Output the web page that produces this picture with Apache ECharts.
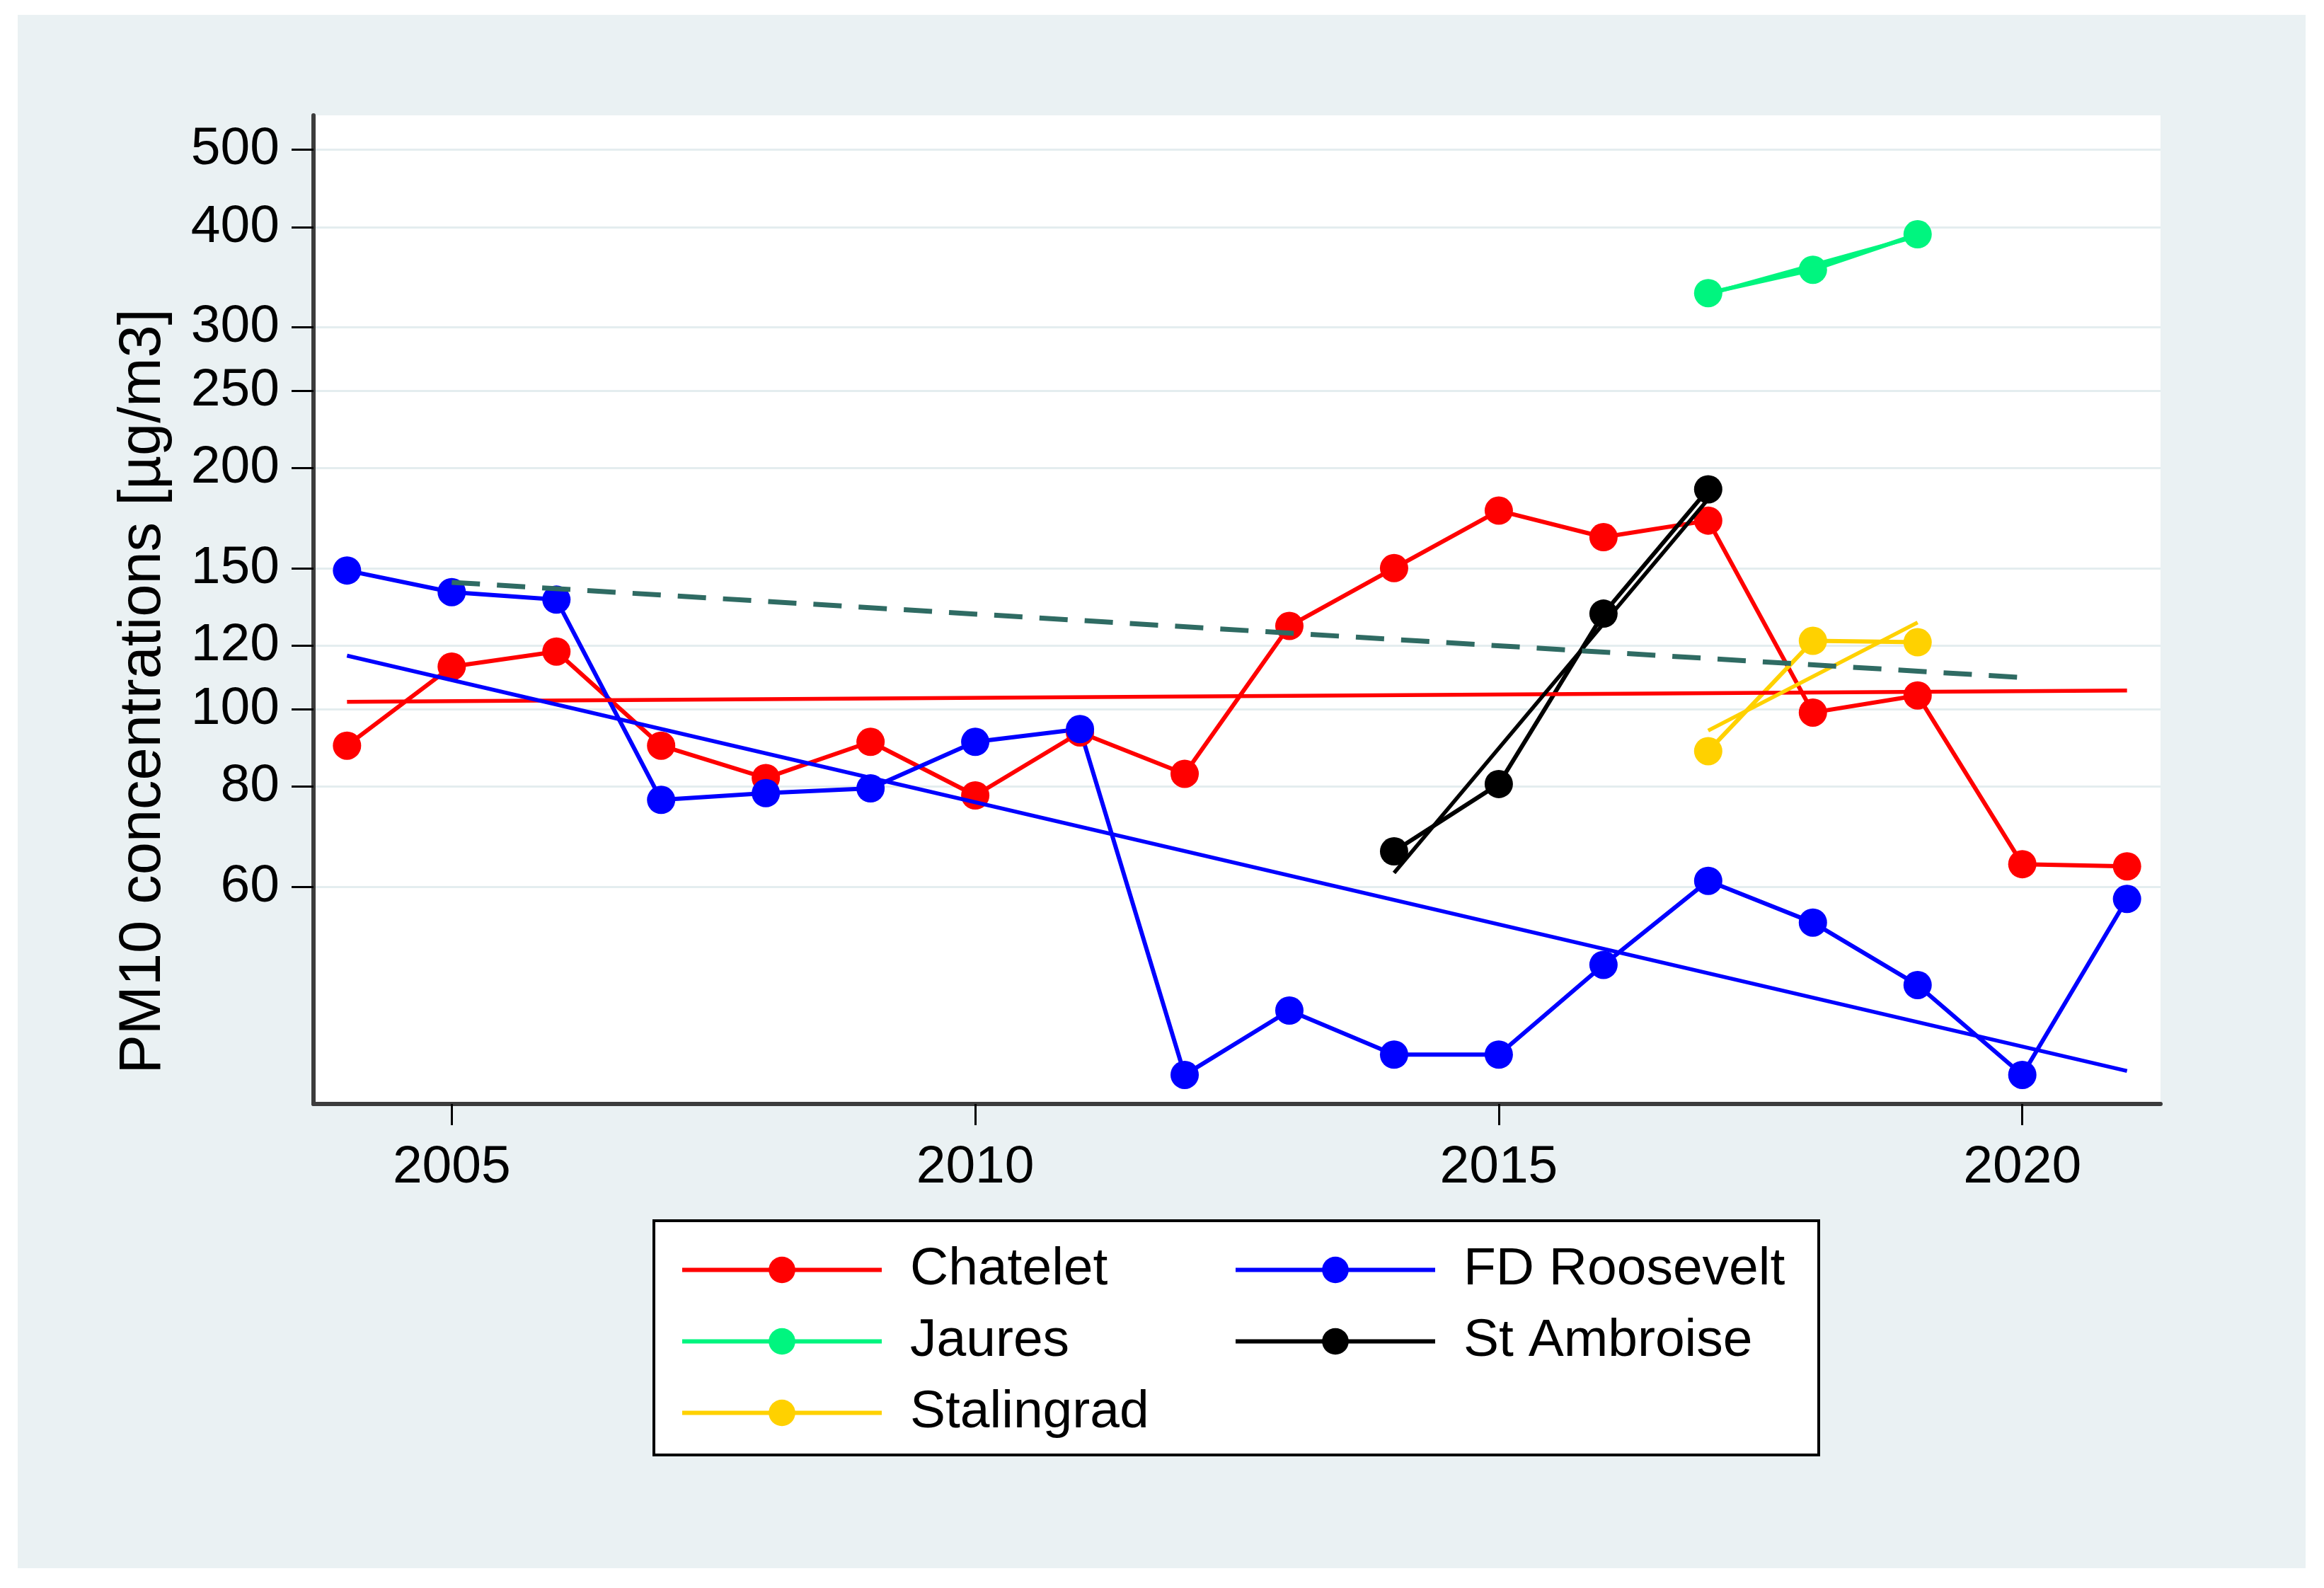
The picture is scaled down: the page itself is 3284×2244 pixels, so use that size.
<!DOCTYPE html>
<html><head><meta charset="utf-8">
<script src="https://cdn.jsdelivr.net/npm/echarts@6/dist/echarts.min.js"></script>
<style>html,body{margin:0;padding:0;background:#fff}#c{width:3284px;height:2244px}</style>
</head><body><div id="c"></div>
<script>
// ---- data ----
const years = [2004,2005,2006,2007,2008,2009,2010,2011,2012,2013,2014,2015,2016,2017,2018,2019,2020,2021];
const chateletVals = [90,113,118,90,82,91,78,93.5,83,127,150,177,164,172,99,104,64,63.6];
const rooseveltVals = [149,140,137,77,78.5,79.6,91,94.4,34.9,42,37,37,47.9,61,54.1,45.2,34.9,57.9];
const jauresYears = [2017,2018,2019];
const jauresVals = [331,354,392];
const ambroiseYears = [2014,2015,2016,2017];
const ambroiseVals = [66.4,80.6,131.6,188.2];
const stalingradYears = [2017,2018,2019];
const stalingradVals = [88.6,121.7,121.2];
// fitted trend lines (end points)
const chateletFitYears = [2004,2021];
const chateletFitVals = [102.1,105.5];
const rooseveltFitYears = [2004,2021];
const rooseveltFitVals = [116.6,35.3];
const jauresFitYears = [2017,2019];
const jauresFitVals = [330,390];
const ambroiseFitYears = [2014,2017];
const ambroiseFitVals = [62.4,183];
const stalingradFitYears = [2017,2019];
const stalingradFitVals = [94.0,128.3];
const overallFitYears = [2005,2020];
const overallFitVals = [144,109.5];
const yTicks = [60,80,100,120,150,200,250,300,400,500];
const xTicks = [2005,2010,2015,2020];

// ---- styling ----
const FONT = "'Liberation Sans', Arial, sans-serif";
const COLORS = {Chatelet:'#ff0000','FD Roosevelt':'#0000ff',Jaures:'#00f57f','St Ambroise':'#000000',Stalingrad:'#ffd100'};
const pts = (xs, ys) => xs.map((x,i) => [x, ys[i]]);
const main = (name, xs, ys) => ({
  type:'line', name, data: pts(xs, ys), symbol:'circle', symbolSize:40, showSymbol:true,
  lineStyle:{color:COLORS[name], width:6}, itemStyle:{color:COLORS[name]}, z:3, animation:false
});
const fit = (name, color, xs, ys, dashed) => ({
  type:'line', name, data: pts(xs, ys), symbol:'none', silent:true,
  lineStyle:{color, width: dashed ? 7 : 5.5, type: dashed ? [40,24] : 'solid'}, z:4, animation:false
});

const chart = echarts.init(document.getElementById('c'), null, {renderer:'canvas'});
const legendCommon = {
  orient:'vertical', itemWidth:282, itemHeight:47, itemGap:26, z:6,
  textStyle:{fontSize:75, lineHeight:75, color:'#000', fontFamily:FONT, padding:[0,0,0,35]},
  lineStyle:{width:6}
};
chart.setOption({
  backgroundColor:'#ffffff',
  animation:false,
  textStyle:{fontFamily:FONT},
  graphic:[
    {type:'rect', z:-10, shape:{x:25,y:21,width:3233,height:2195}, style:{fill:'#eaf1f3'}},
    {type:'rect', z:1, shape:{x:924,y:1725,width:1646,height:331}, style:{fill:'#ffffff', stroke:'#000000', lineWidth:4}},
    {type:'text', z:2, x:203, y:977, rotation:Math.PI/2,
     style:{text:'PM10 concentrations [µg/m3]', font:"83px 'Liberation Sans', Arial, sans-serif", fill:'#000', textAlign:'center', textVerticalAlign:'middle'}}
  ],
  grid:{left:443, top:163, width:2610, height:1397, show:true, backgroundColor:'#ffffff', borderWidth:0},
  xAxis:{
    type:'value', min:2003.68, max:2021.32,
    axisLine:{show:true, onZero:false, lineStyle:{color:'#3c3c3c', width:6}},
    axisTick:{show:true, length:30, customValues:xTicks, lineStyle:{color:'#000', width:3}},
    axisLabel:{customValues:xTicks, formatter:v => String(v), fontSize:75, color:'#000', margin:53, fontFamily:FONT},
    splitLine:{show:false}
  },
  yAxis:{
    type:'log', min:32.1, max:552,
    axisLine:{show:true, lineStyle:{color:'#3c3c3c', width:6}},
    axisTick:{show:true, length:31, customValues:yTicks, lineStyle:{color:'#000', width:3}},
    axisLabel:{customValues:yTicks, formatter:v => String(Math.round(v)), fontSize:75, color:'#000', margin:48, fontFamily:FONT},
    splitLine:{show:true, lineStyle:{color:'#e4edef', width:3}},
    minorTick:{show:false}, minorSplitLine:{show:false}
  },
  legend:[
    Object.assign({data:['Chatelet','Jaures','Stalingrad'], left:956, top:1752}, legendCommon),
    Object.assign({data:['FD Roosevelt','St Ambroise'], left:1738, top:1752}, legendCommon)
  ],
  series:[
    main('Chatelet', years, chateletVals),
    main('FD Roosevelt', years, rooseveltVals),
    main('Jaures', jauresYears, jauresVals),
    main('St Ambroise', ambroiseYears, ambroiseVals),
    main('Stalingrad', stalingradYears, stalingradVals),
    fit('Chatelet fit', COLORS['Chatelet'], chateletFitYears, chateletFitVals),
    fit('FD Roosevelt fit', COLORS['FD Roosevelt'], rooseveltFitYears, rooseveltFitVals),
    fit('Jaures fit', COLORS['Jaures'], jauresFitYears, jauresFitVals),
    fit('St Ambroise fit', COLORS['St Ambroise'], ambroiseFitYears, ambroiseFitVals),
    fit('Stalingrad fit', COLORS['Stalingrad'], stalingradFitYears, stalingradFitVals),
    fit('Overall fit', '#2f6b63', overallFitYears, overallFitVals, true)
  ]
});
</script></body></html>
